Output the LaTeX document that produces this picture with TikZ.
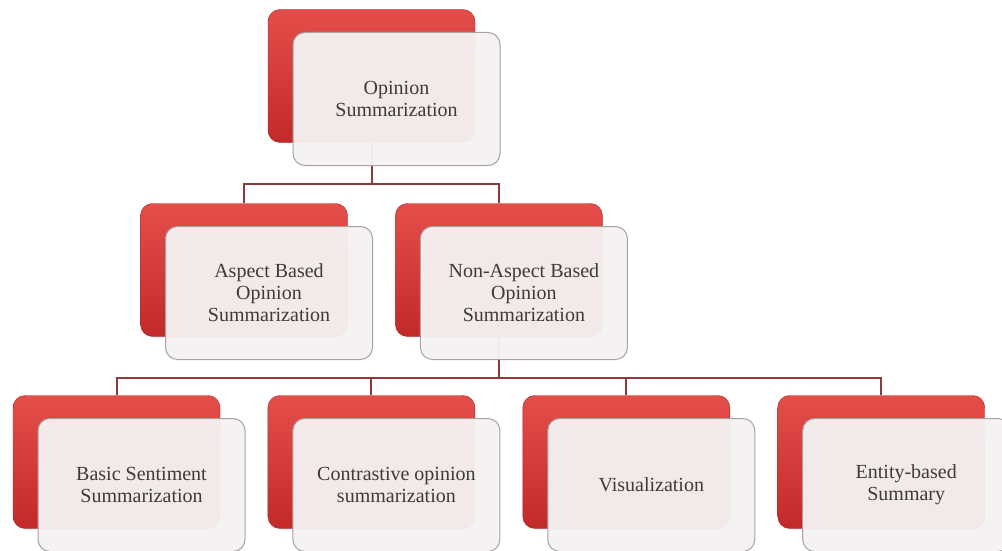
\documentclass[tikz,border=0pt]{standalone}
\usepackage{fontspec}
\setmainfont{Liberation Serif}
\usetikzlibrary{positioning,backgrounds}

\definecolor{redTop}{HTML}{E34E4A}
\definecolor{redBottom}{HTML}{C22A2A}
\definecolor{redEdge}{HTML}{B02424}
\definecolor{cardFill}{HTML}{F4F1F1}
\definecolor{cardEdge}{HTML}{A8A2A2}
\definecolor{linkRed}{HTML}{8E3A3A}
\definecolor{textGray}{HTML}{3E3A3A}

\begin{document}
\begin{tikzpicture}[x=1pt, y=1pt,
    back/.style={rectangle, rounded corners=12pt, minimum width=207pt, minimum height=133pt,
        draw=redEdge, top color=redTop, bottom color=redBottom},
    card/.style={rectangle, rounded corners=12pt, minimum width=207pt, minimum height=133pt,
        draw=cardEdge, line width=1pt, fill=cardFill, fill opacity=0.96, text opacity=1,
        text=textGray, align=center, font=\fontsize{20}{22}\selectfont},
    link/.style={draw=linkRed, line width=2pt}]

    \useasboundingbox (0,0) rectangle (1002,-551);

    % Red back plates
    \node (rootBack) [back] at (371.5,-76) {};
    \node (aspectBack) [back] at (244,-270) {};
    \node (nonBack) [back, right=47.5pt of aspectBack] {};
    \node (basicBack) [back] at (116.5,-462) {};
    \node (contrastBack) [back, right=47.5pt of basicBack] {};
    \node (visBack) [back, right=47.5pt of contrastBack] {};
    \node (entityBack) [back, right=47.5pt of visBack] {};

    % Tree lines, kept behind the plates
    \coordinate (busA) at (0,-184);
    \coordinate (busB) at (0,-378);
    \begin{scope}[on background layer]
        \draw[link] (rootBack.south) -- (rootBack.south |- busA);
        \draw[link] (aspectBack.north) |- (nonBack.north |- busA) -- (nonBack.north);
        \draw[link] (nonBack.south) -- (nonBack.south |- busB);
        \draw[link] (basicBack.north) |- (entityBack.north |- busB) -- (entityBack.north);
        \draw[link] (contrastBack.north) -- (contrastBack.north |- busB);
        \draw[link] (visBack.north) -- (visBack.north |- busB);
    \end{scope}

    % Front cards with the labels
    \node (root) [card] at ([shift={(25,-23)}]rootBack.center) {Opinion\\Summarization};
    \node (aspect) [card] at ([shift={(25,-23)}]aspectBack.center) {Aspect Based\\Opinion\\Summarization};
    \node (non) [card] at ([shift={(25,-23)}]nonBack.center) {Non-Aspect Based\\Opinion\\Summarization};
    \node (basic) [card] at ([shift={(25,-23)}]basicBack.center) {Basic Sentiment\\Summarization};
    \node (contrast) [card] at ([shift={(25,-23)}]contrastBack.center) {Contrastive opinion\\summarization};
    \node (vis) [card] at ([shift={(25,-23)}]visBack.center) {Visualization};
    \node (entity) [card] at ([shift={(25,-23)}]entityBack.center) {Entity-based\\Summary};

\end{tikzpicture}
\end{document}
